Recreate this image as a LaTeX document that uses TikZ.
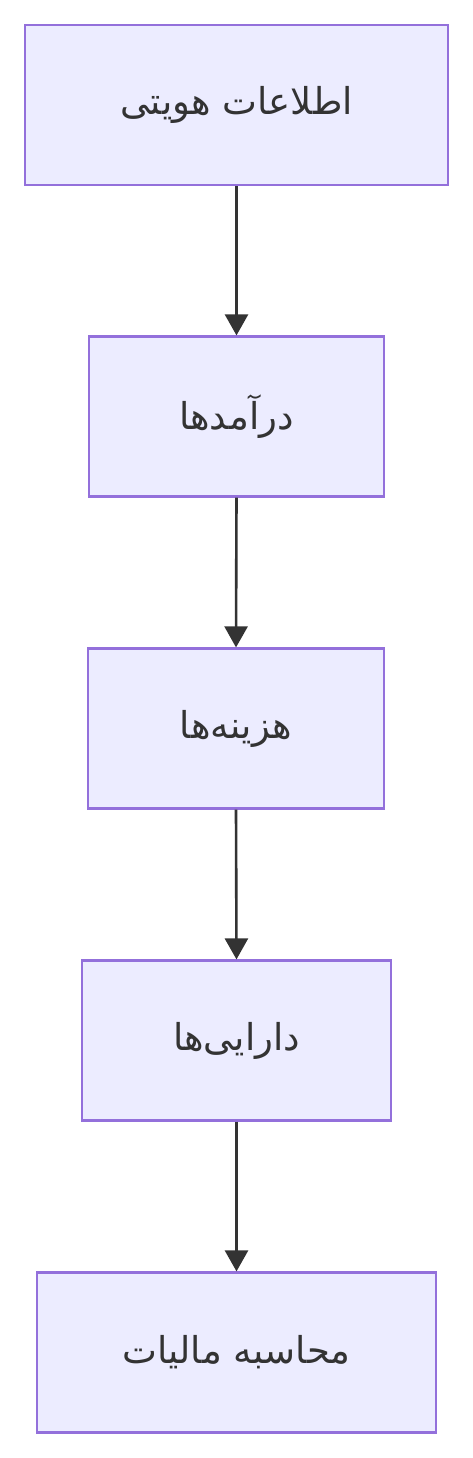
\documentclass[tikz,border=0pt]{standalone}
\usepackage{fontspec}
\TeXXeTstate=1
\newfontfamily\arabicfont[Script=Arabic]{DejaVu Sans}
\usetikzlibrary{arrows.meta}
\definecolor{boxfill}{HTML}{ECECFF}
\definecolor{boxline}{HTML}{9370DB}
\definecolor{arrowc}{HTML}{333333}
\definecolor{textc}{HTML}{333333}
\begin{document}
\begin{tikzpicture}[x=1pt,y=-1pt,
  flowbox/.style={draw=boxline,fill=boxfill,line width=2.2pt,minimum height=160pt,inner sep=0pt,
    text=textc,font=\arabicfont\fontsize{37}{44}\selectfont},
  flowarrow/.style={draw=arrowc,line width=2.6pt,-{Triangle[width=23pt,length=21pt]}}]
\useasboundingbox (0,0) rectangle (473,1458);
\node[flowbox,minimum width=423pt] (a) at (236.5,105) {\beginR اطلاعات هویتی\endR};
\node[flowbox,minimum width=295pt] (b) at (236.5,416.5) {\beginR درآمدها\endR};
\node[flowbox,minimum width=296pt] (c) at (236,728.5) {\beginR هزینه‌ها\endR};
\node[flowbox,minimum width=309pt] (d) at (236.5,1040.5) {\beginR دارایی‌ها\endR};
\node[flowbox,minimum width=399pt] (e) at (236.5,1352.5) {\beginR محاسبه مالیات\endR};
\draw[flowarrow] (a.south) -- (b.north);
\draw[flowarrow] (b.south) -- (c.north);
\draw[flowarrow] (c.south) -- (d.north);
\draw[flowarrow] (d.south) -- (e.north);
\end{tikzpicture}
\end{document}
